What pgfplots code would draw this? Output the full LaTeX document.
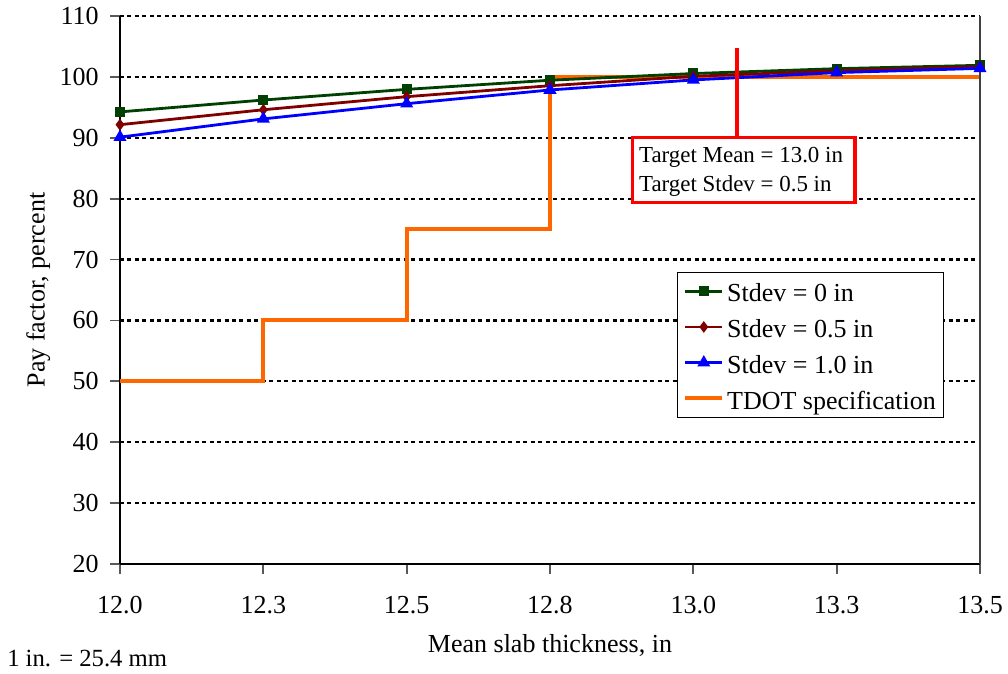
\documentclass[border=0pt]{standalone}
\usepackage{fontspec}
\setmainfont{Liberation Serif}
\usepackage{pgfplots}
\pgfplotsset{compat=1.18}

\definecolor{sdzero}{RGB}{0,64,0}
\definecolor{sdhalf}{RGB}{128,0,0}
\definecolor{sdone}{RGB}{0,0,255}
\definecolor{tdot}{RGB}{255,102,0}
\definecolor{target}{RGB}{255,0,0}

\newcommand{\bigfont}{\fontsize{19.5}{23}\selectfont}
\newcommand{\boxfont}{\fontsize{17.2}{21}\selectfont}

\begin{document}
\begin{tikzpicture}[x=1pt,y=1pt]
\path[use as bounding box] (-90,-82.5) rectangle (666,423);
\begin{axis}[
  at={(0,0)}, anchor=south west,
  width=645pt, height=411pt, scale only axis,
  xmin=12, xmax=13.5, ymin=20, ymax=110,
  clip=false,
  axis x line*=bottom, axis y line*=left,
  axis line style={black, line width=1.5pt},
  tick align=outside,
  major tick length=7.5pt,
  tick style={black!65, line width=1.4pt},
  xtick={12,12.25,12.5,12.75,13,13.25,13.5},
  xticklabels={12.0,12.3,12.5,12.8,13.0,13.3,13.5},
  ytick={20,30,40,50,60,70,80,90,100,110},
  yticklabels={20,30,40,50,60,70,80,90,100,110},
  /pgf/number format/assume math mode=true,
  tick label style={font=\bigfont},
  xticklabel style={anchor=base, yshift=-30pt},
  yticklabel style={anchor=east, xshift=-5pt},
  ymajorgrids,
  major grid style={black, line width=1.6pt, dash pattern=on 3pt off 2.6pt},
  xlabel={Mean slab thickness, in},
  ylabel={Pay factor, percent},
  label style={font=\bigfont},
  xlabel style={at={(axis description cs:0.5,-0.162)}, anchor=base},
  ylabel style={at={(axis description cs:-0.095,0.5)}, anchor=center},
  legend cell align=left,
  legend image code/.code={\draw[mark repeat=2,mark phase=2,#1] plot coordinates {(0pt,0pt) (14pt,0pt) (28pt,0pt)};},
  legend style={at={(axis description cs:0.648,0.5334)}, anchor=north west,
    draw=black, line width=0.8pt, font=\bigfont, fill=white,
    inner xsep=4pt, inner ysep=3.25pt, row sep=4.8pt,
    nodes={inner sep=2pt, text height=17pt, text depth=1pt}},
]

% TDOT pay factor schedule (step function)
\addplot[tdot, line width=3pt, forget plot] coordinates {
  (12.00,50) (12.25,50) (12.25,60) (12.50,60) (12.50,75)
  (12.75,75) (12.75,100) (13.50,100)
};

\addplot[sdzero, line width=2.1pt, mark=square*, mark size=2.8pt, mark options={solid}] coordinates {
  (12.00,94.25) (12.25,96.2) (12.50,97.95) (12.75,99.45)
  (13.00,100.55) (13.25,101.35) (13.50,101.9)
};
\addlegendentry{Stdev = 0 in}

\addplot[sdhalf, line width=2.1pt, mark=diamond*, mark size=2.7pt, mark options={solid}] coordinates {
  (12.00,92.15) (12.25,94.6) (12.50,96.75) (12.75,98.55)
  (13.00,100.1) (13.25,101.0) (13.50,101.7)
};
\addlegendentry{Stdev = 0.5 in}

\addplot[sdone, line width=2.1pt, mark=triangle*, mark size=3.6pt, mark options={solid}] coordinates {
  (12.00,90.1) (12.25,93.1) (12.50,95.6) (12.75,97.85)
  (13.00,99.5) (13.25,100.7) (13.50,101.4)
};
\addlegendentry{Stdev = 1.0 in}

\addlegendimage{tdot, line width=3pt}
\addlegendentry{TDOT specification}

% right frame edge
\draw[black!75, line width=1.5pt] (rel axis cs:1,0) -- (rel axis cs:1,1);

% target annotation
\draw[target, line width=3pt] (axis cs:13.076,104.75) -- (axis cs:13.076,90.08);
\draw[target, line width=2.5pt, fill=white] (axis cs:12.894,79.34) rectangle (axis cs:13.282,90.08);
\node[anchor=base west, font=\boxfont, inner sep=0pt] at (axis cs:12.905,85.86) {Target Mean = 13.0 in};
\node[anchor=base west, font=\boxfont, inner sep=0pt] at (axis cs:12.905,81.1) {Target Stdev = 0.5 in};
\end{axis}
\node[anchor=base west, font=\fontsize{18.5}{22}\selectfont, inner sep=0pt] at (-84.75,-77.25) {1 in. = 25.4 mm};
\end{tikzpicture}
\end{document}
